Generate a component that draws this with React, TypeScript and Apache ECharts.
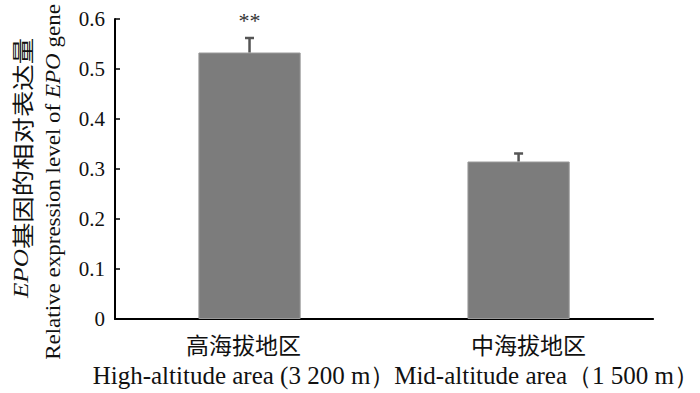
import React, { useEffect, useRef } from "react";
import * as echarts from "echarts";

const categories = ["高海拔地区", "中海拔地区"];
const categoriesEn = ["High-altitude area (3 200 m）", "Mid-altitude area（1 500 m）"];
const means = [0.533, 0.315];
const errors = [0.029, 0.016];
const marks = ["**", ""];
const yMin = 0;
const yMax = 0.6;
const yStep = 0.1;

const SERIF = "'Liberation Serif', 'Times New Roman', serif";
const CJK = "'Noto Sans CJK SC', sans-serif";

export default function App() {
  const ref = useRef<HTMLDivElement>(null);
  useEffect(() => {
    if (!ref.current) return;
    const chart = echarts.init(ref.current, undefined, { renderer: "svg" });
    const cnPad = [
      [0, 12, 0, 0],
      [0, 0, 0, 20],
    ];
    const enPad = [
      [0, 11, 0, 0],
      [0, 0, 0, 56],
    ];
    const rich: any = {};
    categories.forEach((_, i) => {
      rich["cn" + i] = {
        fontFamily: CJK,
        fontSize: 23,
        lineHeight: 30,
        color: "#111",
        padding: cnPad[i],
      };
      rich["en" + i] = {
        fontFamily: SERIF,
        fontSize: 25,
        lineHeight: 32,
        color: "#111",
        padding: enPad[i],
      };
    });
    const option: any = {
      animation: false,
      backgroundColor: "#fff",
      grid: { left: 115, right: 39, top: 19, bottom: 74 },
      xAxis: {
        type: "category",
        data: categories,
        axisLine: { show: true, lineStyle: { color: "#000", width: 2 } },
        axisTick: { show: false },
        axisLabel: {
          interval: 0,
          margin: 10,
          formatter: (v: string, i: number) => `{cn${i}|${v}}\n{en${i}|${categoriesEn[i]}}`,
          rich,
        },
      },
      yAxis: {
        type: "value",
        min: yMin,
        max: yMax,
        interval: yStep,
        splitLine: { show: false },
        axisLine: { show: true, lineStyle: { color: "#000", width: 2 } },
        axisTick: { show: true, inside: true, length: 5, lineStyle: { color: "#000", width: 1.5 } },
        axisLabel: { fontFamily: SERIF, fontSize: 21, color: "#111", margin: 10 },
      },
      graphic: [
        {
          type: "text",
          x: 21,
          y: 168,
          rotation: Math.PI / 2,
          scaleX: 1.2,
          style: {
            text: "{i|EPO}{c|基因的相对表达量}",
            align: "center",
            verticalAlign: "middle",
            fill: "#111",
            rich: {
              i: { fontFamily: SERIF, fontStyle: "italic", fontSize: 21, color: "#111" },
              c: { fontFamily: CJK, fontSize: 22, color: "#111" },
            },
          },
        },
        {
          type: "text",
          x: 54,
          y: 182,
          rotation: Math.PI / 2,
          scaleX: 1.15,
          style: {
            text: "{r|Relative expression level of }{i|EPO}{r| gene}",
            align: "center",
            verticalAlign: "middle",
            fill: "#111",
            rich: {
              r: { fontFamily: SERIF, fontSize: 20, color: "#111" },
              i: { fontFamily: SERIF, fontStyle: "italic", fontSize: 20, color: "#111" },
            },
          },
        },
      ],
      series: [
        {
          type: "bar",
          data: means,
          barWidth: "38%",
          itemStyle: { color: "#7c7c7c", borderColor: "#9a9a9a", borderWidth: 1 },
          z: 2,
        },
        {
          type: "custom",
          z: 3,
          data: means.map((m, i) => [i, m, errors[i]]),
          renderItem: (params: any, api: any) => {
            const idx = api.value(0);
            const m = api.value(1);
            const e = api.value(2);
            const base = api.coord([idx, m]);
            const top = api.coord([idx, m + e]);
            const children: any[] = [
              {
                type: "line",
                shape: { x1: base[0], y1: base[1], x2: top[0], y2: top[1] },
                style: { stroke: "#555", lineWidth: 2.5 },
              },
              {
                type: "line",
                shape: { x1: top[0] - 4.5, y1: top[1], x2: top[0] + 4.5, y2: top[1] },
                style: { stroke: "#555", lineWidth: 2.5 },
              },
            ];
            const mk = marks[params.dataIndex];
            if (mk) {
              children.push({
                type: "text",
                x: top[0],
                y: top[1] - 7,
                style: {
                  text: mk,
                  fontFamily: SERIF,
                  fontSize: 22,
                  fill: "#333",
                  align: "center",
                  verticalAlign: "bottom",
                },
              });
            }
            return { type: "group", children };
          },
        },
      ],
    };
    chart.setOption(option);
    return () => chart.dispose();
  }, []);
  return (
    <div
      ref={ref}
      style={{ position: "fixed", left: 0, top: 0, width: 700, height: 393, background: "#fff" }}
    />
  );
}
